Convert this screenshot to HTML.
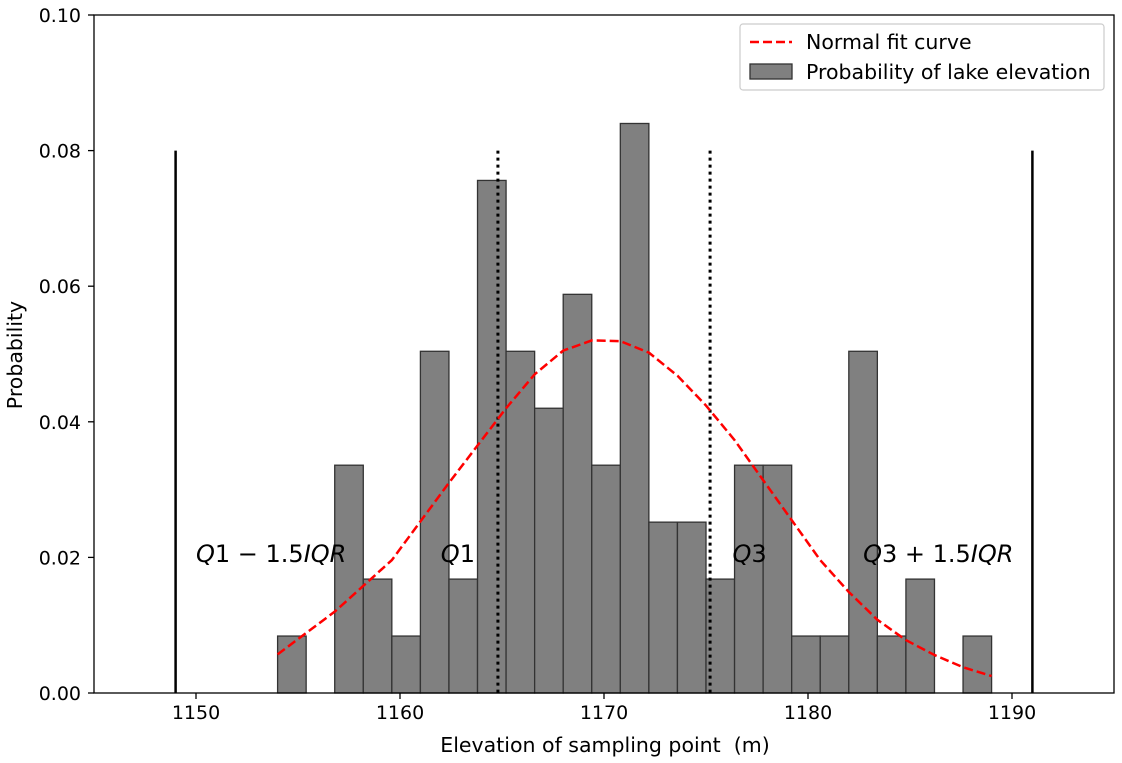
<!DOCTYPE html>
<html><head><meta charset="utf-8"><style>
body{margin:0;background:#fff}
svg{display:block;font-family:"DejaVu Sans","Liberation Sans",sans-serif}
</style></head><body>
<svg id="chart" width="1122" height="763"></svg>
<script>
const binStart = 1154.0;
const binWidth = 1.4;
const binValues = [0.0084,0,0.0336,0.0168,0.0084,0.0504,0.0168,0.0756,0.0504,0.042,0.0588,0.0336,0.084,0.0252,0.0252,0.0168,0.0336,0.0336,0.0084,0.0084,0.0504,0.0084,0.0168,0,0.0084];
const fitX = [1154,1156.8,1159.6,1162.4,1163.8,1165.2,1166.6,1168,1169.4,1170.8,1172.2,1173.6,1175,1176.4,1177.8,1179.2,1180.6,1182,1183.4,1184.8,1186.2,1187.6,1189];
const fitY = [0.0057,0.012,0.0196,0.031,0.0365,0.042,0.047,0.0505,0.052,0.0519,0.0502,0.0468,0.0424,0.0373,0.0314,0.0255,0.0196,0.0149,0.0108,0.0078,0.0056,0.0038,0.0025];
const xTicks = [1150,1160,1170,1180,1190];
const yTicks = [0,0.02,0.04,0.06,0.08,0.1];
const yTickLabels = ["0.00","0.02","0.04","0.06","0.08","0.10"];
const solidLines = [1149,1191];
const dottedLines = [1164.8,1175.2];
const lineTop = 0.08;
const annotations = [["Q1 − 1.5IQR",1150],["Q1",1162],["Q3",1176.3],["Q3 + 1.5IQR",1182.7]];
const annotY = 0.0205;

const L=94,R=1114,T=15,B=693,xmin=1145,xmax=1195,ymax=0.1;
const X=v=>L+(v-xmin)/(xmax-xmin)*(R-L);
const Y=v=>B-v/ymax*(B-T);
const svg=document.getElementById('chart');
const NS='http://www.w3.org/2000/svg';
function mk(tag,attrs,parent){const e=document.createElementNS(NS,tag);for(const k in attrs)e.setAttribute(k,attrs[k]);(parent||svg).appendChild(e);return e;}

binValues.forEach((v,i)=>{
  if(v<=0)return;
  const x0=X(binStart+i*binWidth),x1=X(binStart+(i+1)*binWidth);
  const r=mk('rect',{x:x0,y:Y(v),width:x1-x0,height:B-Y(v),fill:'#808080',stroke:'#333','stroke-width':1.3});
  
  
});
solidLines.forEach(v=>{
  const l=mk('line',{x1:X(v),x2:X(v),y1:Y(lineTop),y2:B,stroke:'#000','stroke-width':2.5});
  
  
});
dottedLines.forEach(v=>{
  const l=mk('line',{x1:X(v),x2:X(v),y1:Y(lineTop),y2:B,stroke:'#000','stroke-width':3,'stroke-dasharray':'3,4'});
  
  
});
const pts=fitX.map((x,i)=>X(x)+','+Y(fitY[i])).join(' ');
const pl=mk('polyline',{points:pts,fill:'none',stroke:'#f00','stroke-width':2.5,'stroke-dasharray':'9,4'});


annotations.forEach(a=>{
  const t=mk('text',{x:X(a[1]),y:Y(annotY)+8,'font-size':24,'xml:space':'preserve'});
  a[0].split(/([A-Z]+)/).forEach(part=>{
    if(!part)return;
    const s=mk('tspan',{},t);
    if(/^[A-Z]+$/.test(part))s.setAttribute('font-style','italic');
    s.textContent=part;
  });
  
  
});
mk('rect',{x:L,y:T,width:R-L,height:B-T,fill:'none',stroke:'#000','stroke-width':1.3});
xTicks.forEach(v=>{
  mk('line',{x1:X(v),x2:X(v),y1:B,y2:B+6,stroke:'#000','stroke-width':1.3});
  const t=mk('text',{x:X(v),y:B+26,'font-size':19,'text-anchor':'middle'});
  t.textContent=v;
  
  
});
yTicks.forEach((v,i)=>{
  mk('line',{x1:L-6,x2:L,y1:Y(v),y2:Y(v),stroke:'#000','stroke-width':1.3});
  const t=mk('text',{x:L-13,y:Y(v)+7,'font-size':19,'text-anchor':'end'});
  t.textContent=yTickLabels[i];
  
  
});
</script>
<svg width="1122" height="763" style="position:absolute;left:0;top:0;font-family:'DejaVu Sans','Liberation Sans',sans-serif">
  <text x="605" y="752" font-size="20.5" text-anchor="middle" xml:space="preserve">Elevation of sampling point  (m)</text>
  <text transform="translate(22,355) rotate(-90)" font-size="20.5" text-anchor="middle">Probability</text>
  <g>
    <rect x="740" y="24" width="364" height="66" rx="3" fill="#fff" stroke="#ccc" stroke-width="1.2"/>
    <line x1="750" y1="42" x2="792" y2="42" stroke="#f00" stroke-width="2.5" stroke-dasharray="9,4"/>
    <text x="806" y="49" font-size="20.5">Normal fit curve</text>
    <rect x="750" y="64" width="42" height="15" fill="#808080" stroke="#333" stroke-width="1.3"/>
    <text x="806" y="79" font-size="20.5">Probability of lake elevation</text>
  </g>
</svg>
</body></html>
